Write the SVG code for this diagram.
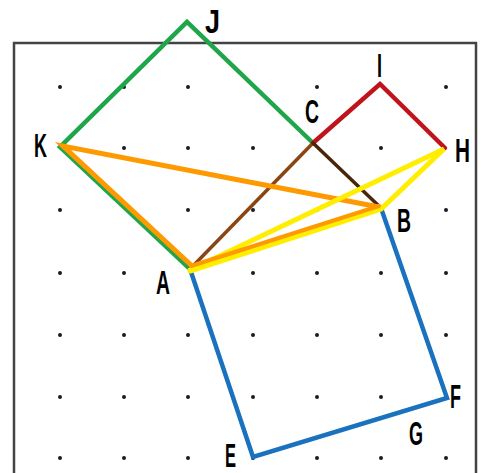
<svg xmlns="http://www.w3.org/2000/svg" width="482" height="473" viewBox="0 0 482 473">
<style>
.dot{fill:#1a1a2a}
.ln{fill:none;stroke-linejoin:miter;stroke-linecap:round}
.lbl{font-family:"Liberation Sans Narrow","Liberation Sans","DejaVu Sans Condensed",sans-serif;font-weight:bold;font-size:33px;fill:#000}
</style>
<defs><circle id="d" r="2" class="dot"/></defs>
<rect width="482" height="473" fill="#fff"/>
<rect x="14" y="43" width="462" height="450" fill="none" stroke="#444" stroke-width="2.5"/>
<g id="grid">
<use href="#d" x="60" y="87"/><use href="#d" x="124" y="87"/><use href="#d" x="188" y="87"/><use href="#d" x="317" y="87"/><use href="#d" x="446" y="87"/>
<use href="#d" x="124" y="148"/><use href="#d" x="188" y="148"/><use href="#d" x="253" y="148"/><use href="#d" x="381" y="148"/>
<use href="#d" x="60" y="210"/><use href="#d" x="188" y="210"/><use href="#d" x="253" y="210"/><use href="#d" x="317" y="210"/><use href="#d" x="446" y="210"/>
<use href="#d" x="60" y="273"/><use href="#d" x="124" y="273"/><use href="#d" x="253" y="273"/><use href="#d" x="317" y="273"/><use href="#d" x="381" y="273"/><use href="#d" x="446" y="273"/>
<use href="#d" x="60" y="335"/><use href="#d" x="124" y="335"/><use href="#d" x="188" y="335"/><use href="#d" x="253" y="335"/><use href="#d" x="317" y="335"/><use href="#d" x="381" y="335"/><use href="#d" x="446" y="335"/>
<use href="#d" x="60" y="397"/><use href="#d" x="124" y="397"/><use href="#d" x="188" y="397"/><use href="#d" x="253" y="397"/><use href="#d" x="317" y="397"/><use href="#d" x="381" y="397"/>
<use href="#d" x="60" y="458"/><use href="#d" x="124" y="458"/><use href="#d" x="188" y="458"/><use href="#d" x="253" y="458"/><use href="#d" x="317" y="458"/><use href="#d" x="381" y="458"/><use href="#d" x="446" y="458"/>
</g>
<g id="connectors">
<polyline class="ln" points="313,143 187,22 60,147 190,269" stroke="#1fa64a" stroke-width="4.5"/>
<polyline class="ln" points="313,143 380,84 445,148" stroke="#c0141c" stroke-width="4.5"/>
<line class="ln" x1="445" y1="148" x2="381" y2="208" stroke="#c0141c" stroke-width="2"/>
<polygon class="ln" points="190,269 381,208 447,398 253,457" stroke="#1a72bf" stroke-width="4.5"/>
<line class="ln" x1="313" y1="143" x2="190" y2="269" stroke="#8b4513" stroke-width="3.5"/>
<line class="ln" x1="313" y1="143" x2="381" y2="208" stroke="#4a2508" stroke-width="3.5"/>
<polyline class="ln" points="192,266 63,146 379,207" stroke="#ff9900" stroke-width="5"/>
<polyline class="ln" points="190,270 444,149 381,209 190,271" stroke="#ffee00" stroke-width="5"/>
<line class="ln" x1="191" y1="266" x2="379" y2="206" stroke="#ff9900" stroke-width="4"/>
</g>
<g id="J"><text class="lbl" x="205" y="33" textLength="15" lengthAdjust="spacingAndGlyphs">J</text></g>
<g id="K"><text class="lbl" x="34" y="157" textLength="13" lengthAdjust="spacingAndGlyphs">K</text></g>
<g id="I"><text class="lbl" x="377" y="77" textLength="5" lengthAdjust="spacingAndGlyphs">I</text></g>
<g id="C"><text class="lbl" x="305" y="123" textLength="14" lengthAdjust="spacingAndGlyphs">C</text></g>
<g id="H"><text class="lbl" x="455" y="162" textLength="15" lengthAdjust="spacingAndGlyphs">H</text></g>
<g id="B"><text class="lbl" x="397" y="232" textLength="14" lengthAdjust="spacingAndGlyphs">B</text></g>
<g id="A"><text class="lbl" x="156" y="294" textLength="14" lengthAdjust="spacingAndGlyphs">A</text></g>
<g id="E"><text class="lbl" x="225" y="467" textLength="11" lengthAdjust="spacingAndGlyphs">E</text></g>
<g id="F"><text class="lbl" x="450" y="408" textLength="11" lengthAdjust="spacingAndGlyphs">F</text></g>
<g id="G"><text class="lbl" x="409" y="445" textLength="14" lengthAdjust="spacingAndGlyphs">G</text></g>
</svg>
